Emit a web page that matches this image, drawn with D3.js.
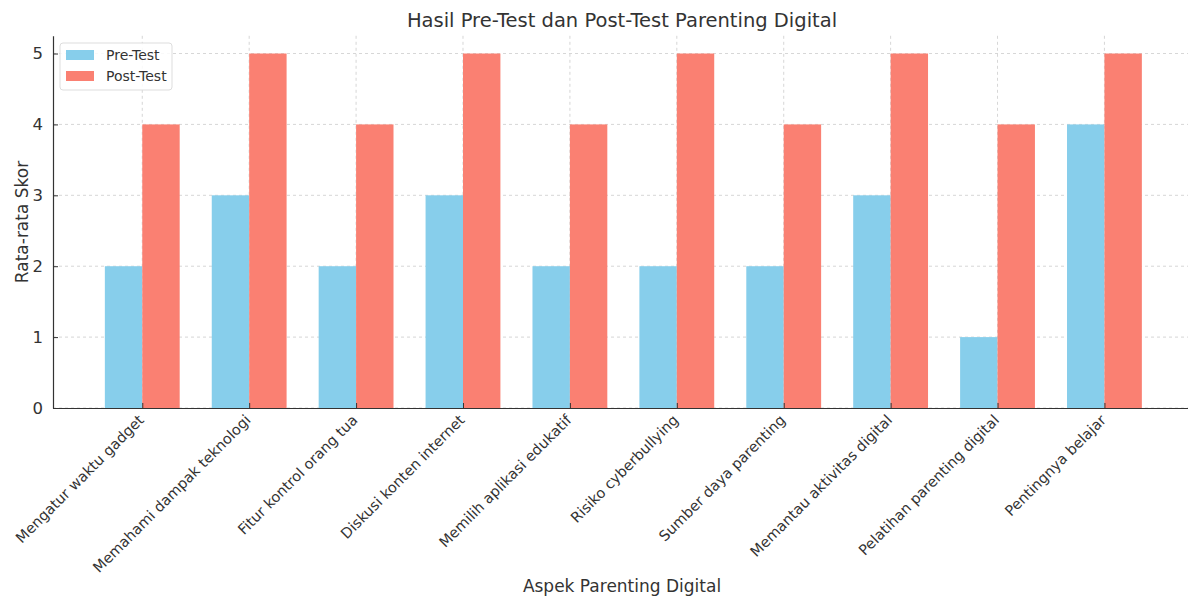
<!DOCTYPE html>
<html><head><meta charset="utf-8">
<script src="https://cdn.jsdelivr.net/npm/d3@7/dist/d3.min.js"></script>
<style>body{margin:0;background:#fff}svg{display:block;font-family:"DejaVu Sans",sans-serif}</style>
</head><body>
<svg id="c" width="1188" height="597"></svg>
<script>
const categories = ["Mengatur waktu gadget","Memahami dampak teknologi","Fitur kontrol orang tua","Diskusi konten internet","Memilih aplikasi edukatif","Risiko cyberbullying","Sumber daya parenting","Memantau aktivitas digital","Pelatihan parenting digital","Pentingnya belajar"];
const preTest = [2,3,2,3,2,2,2,3,1,4];
const postTest = [4,5,4,5,4,5,4,5,4,5];
const yTicks = [0,1,2,3,4,5];
const seriesNames = ["Pre-Test","Post-Test"];
const colors = ["#87CEEB","#FA8072"];

const svg = d3.select("#c");
const L = 53, R = 1193.7, T = 35.8, B = 408;
const barW = 0.35;
const x = d3.scaleLinear().domain([-0.835, categories.length - 1 + 0.835]).range([L, R]);
const y = d3.scaleLinear().domain([0, 5.25]).range([B, T]);
const ink = "#333";

// grid
const g = svg.append("g");
g.selectAll(".gx").data(categories).join("line")
  .attr("x1",(d,i)=>x(i)).attr("x2",(d,i)=>x(i)).attr("y1",T).attr("y2",B)
  .attr("stroke","#ccc").attr("stroke-width",0.8).attr("stroke-dasharray","3,3");
g.selectAll(".gy").data(yTicks).join("line")
  .attr("x1",L).attr("x2",1188).attr("y1",d=>y(d)).attr("y2",d=>y(d))
  .attr("stroke","#ccc").attr("stroke-width",0.8).attr("stroke-dasharray","3,3");

// bars
const series = [preTest, postTest];
series.forEach((vals, s) => {
  svg.append("g").selectAll("rect").data(vals).join("rect")
    .attr("x",(d,i)=>x(i + (s === 0 ? -barW : 0)))
    .attr("width",(d,i)=>x(barW) - x(0))
    .attr("y",d=>y(d)).attr("height",d=>B - y(d))
    .attr("fill",colors[s]);
});

// axes
const yAxis = d3.axisLeft(y).tickValues(yTicks).tickFormat(d3.format("d")).tickSizeInner(-5).tickSizeOuter(0).tickPadding(10);
const ya = svg.append("g").attr("transform",`translate(${L},0)`).call(yAxis);
ya.select(".domain").attr("stroke",ink).attr("stroke-width",1.2);
ya.selectAll(".tick line").attr("stroke",ink);
ya.selectAll(".tick text").attr("fill",ink).attr("font-size",16.5).attr("font-family","DejaVu Sans");

const xAxis = d3.axisBottom(x).tickValues(d3.range(categories.length)).tickFormat(i=>categories[i]).tickSizeInner(-5).tickSizeOuter(0);
const xa = svg.append("g").attr("transform",`translate(0,${B})`).call(xAxis);
xa.select(".domain").attr("stroke",ink).attr("stroke-width",1.2);
xa.selectAll(".tick line").attr("stroke",ink);
xa.selectAll(".tick text").attr("fill",ink).attr("font-size",14.5).attr("font-family","DejaVu Sans")
  .attr("text-anchor","end").attr("dy",null).attr("y",0)
  .attr("transform","translate(2,13) rotate(-45)");

// labels
svg.append("text").attr("x",622).attr("y",27).attr("text-anchor","middle").attr("font-size",19.5).attr("fill",ink).text("Hasil Pre-Test dan Post-Test Parenting Digital");
svg.append("text").attr("x",622).attr("y",592).attr("text-anchor","middle").attr("font-size",17).attr("fill",ink).text("Aspek Parenting Digital");
svg.append("text").attr("transform","translate(28,222) rotate(-90)").attr("text-anchor","middle").attr("font-size",17).attr("fill",ink).text("Rata-rata Skor");

// legend
const lg = svg.append("g").attr("transform","translate(60,43)");
lg.append("rect").attr("width",112).attr("height",47).attr("rx",3).attr("fill","#fff").attr("fill-opacity",0.85).attr("stroke","#ddd");
seriesNames.forEach((n,i)=>{
  lg.append("rect").attr("x",6).attr("y",7+i*21).attr("width",28).attr("height",10).attr("fill",colors[i]);
  lg.append("text").attr("x",46).attr("y",17+i*21).attr("font-size",14).attr("fill",ink).text(n);
});
</script>
</body></html>
